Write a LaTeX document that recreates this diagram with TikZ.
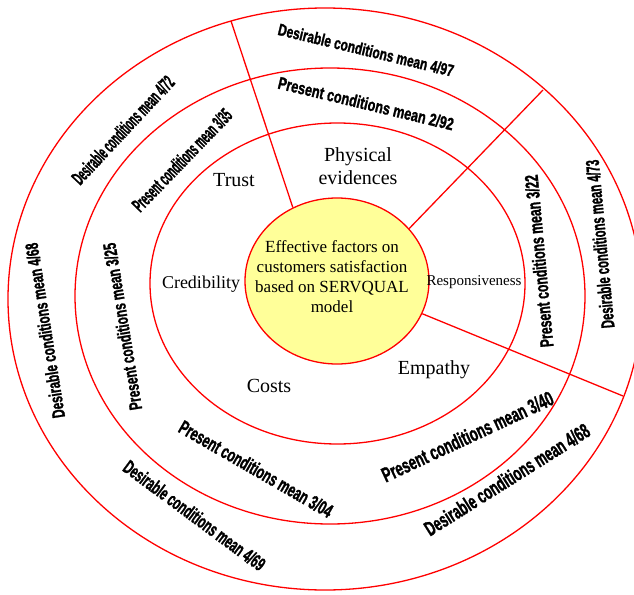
\documentclass[tikz,border=0pt]{standalone}
\usepackage{fontspec}
\setmainfont{Liberation Serif}
\newfontfamily\ringfont{Liberation Sans}[BoldFeatures={FakeBold=1.6}]
\usetikzlibrary{shapes.geometric}
\definecolor{coreyellow}{RGB}{255,255,153}
% condensed bold label, stretched to a given length and height
\newcommand\ringtxt[3]{\resizebox{#1pt}{#2pt}{\ringfont\bfseries #3}}

\begin{document}
\begin{tikzpicture}[x=1pt,y=-1pt,
  ring/.style={draw=red, line width=1.3pt},
  spoke/.style={draw=red, line width=1.3pt},
  factor/.style={font=\fontsize{20}{23}\selectfont, anchor=base, inner sep=0pt},
  ringlabel/.style={inner sep=0pt, text=black},
]
\useasboundingbox (0,0) rectangle (634,594);
\clip (0,0) rectangle (634,594);
\fill[white] (0,0) rectangle (634,594);

% three rings around the core
\draw[ring] (325,299) ellipse [x radius=317, y radius=291];
\draw[ring] (330,296) ellipse [x radius=255, y radius=228];
\draw[ring] (337.5,283.5) ellipse [x radius=187.5, y radius=160.5];

% core
\node[ellipse, draw=red, line width=1.3pt, fill=coreyellow,
      minimum width=184pt, minimum height=166pt, inner sep=0pt] (core) at (337,281) {};
\node[font=\fontsize{17}{20}\selectfont, align=center] (coretext) at (332,277)
  {Effective factors on\\customers satisfaction\\based on SERVQUAL\\model};

% spokes from the core to the outer ring
\coordinate (o1) at (231,21);
\coordinate (o2) at (543,90);
\coordinate (o3) at (623,396);
\draw[spoke] (core.121.3) -- (o1);
\draw[spoke] (core.36.5) -- (o2);
\draw[spoke] (core.-21.2) -- (o3);

% factors
\node[factor] (trust) at (234,186) {Trust};
\node[font=\fontsize{20}{23}\selectfont, align=center, inner sep=0pt] (phys) at (358,166.5) {Physical\\evidences};
\node[font=\fontsize{18}{20}\selectfont, anchor=base, inner sep=0pt] (cred) at (201,288) {Credibility};
\node[font=\fontsize{15}{17}\selectfont, anchor=base, inner sep=0pt] (resp) at (474,285) {Responsiveness};
\node[factor] (emp) at (434,374) {Empathy};
\node[factor] (costs) at (269,392) {Costs};

% ring labels
\node[ringlabel, rotate=-13.5] (d497) at (366,50) {\ringtxt{180}{12}{Desirable conditions mean 4/97}};
\node[ringlabel, rotate=-13.5] (p292) at (366,103.5) {\ringtxt{180}{12.5}{Present conditions mean 2/92}};
\node[ringlabel, rotate=47] (d472) at (123,130) {\ringtxt{140}{14}{Desirable conditions mean 4/72}};
\node[ringlabel, rotate=46] (p335) at (182,160) {\ringtxt{134}{14}{Present conditions mean 3/35}};
\node[ringlabel, rotate=99] (d468l) at (45,330.5) {\ringtxt{177}{13}{Desirable conditions mean 4/68}};
\node[ringlabel, rotate=99.2] (p325) at (122.5,326.5) {\ringtxt{169}{13}{Present conditions mean 3/25}};
\node[ringlabel, rotate=95.3] (p322) at (539,261) {\ringtxt{173}{13.5}{Present conditions mean 3/22}};
\node[ringlabel, rotate=95.4] (d473) at (600,244) {\ringtxt{169}{13.5}{Desirable conditions mean 4/73}};
\node[ringlabel, rotate=-30] (p304) at (256,469) {\ringtxt{174}{14}{Present conditions mean 3/04}};
\node[ringlabel, rotate=-36.5] (d469) at (194.5,515.5) {\ringtxt{171}{14}{Desirable conditions mean 4/69}};
\node[ringlabel, rotate=25] (p340) at (467.5,436.5) {\ringtxt{187}{15}{Present conditions mean 3/40}};
\node[ringlabel, rotate=32.2] (d468r) at (507,479.5) {\ringtxt{191}{15}{Desirable conditions mean 4/68}};
\end{tikzpicture}
\end{document}
